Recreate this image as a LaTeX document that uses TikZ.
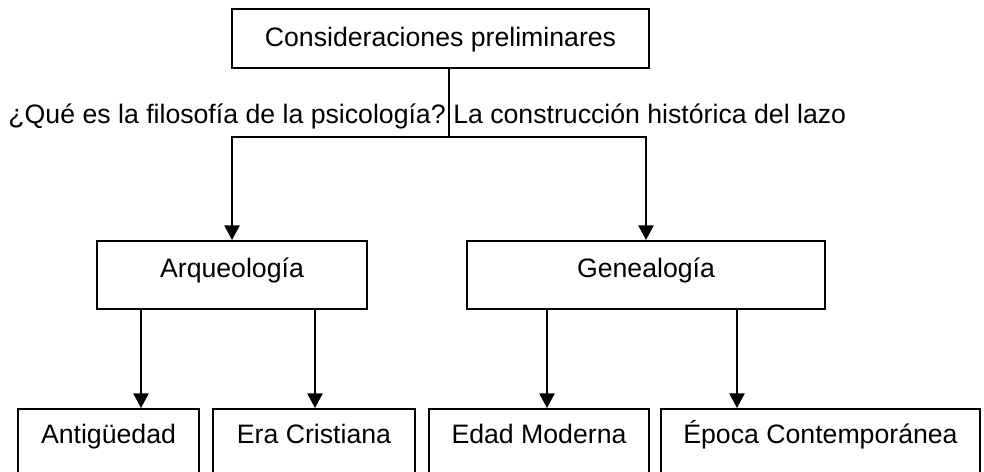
\documentclass[tikz,border=0pt]{standalone}
\usepackage{fontspec}
\setmainfont{Liberation Sans}
\usetikzlibrary{arrows.meta}
\begin{document}
\begin{tikzpicture}[x=0.75pt,y=-0.75pt,
  txt/.style={font=\fontsize{20}{24}\selectfont},
  box/.style={txt, draw, line width=1.3pt, inner sep=0pt, anchor=north},
  topbox/.style={box, minimum height=44.25pt, text height=28.1pt, text depth=16.15pt},
  midbox/.style={box, minimum height=51pt, text height=27.75pt, text depth=23.25pt},
  lowbox/.style={box, minimum height=60pt, text height=26.25pt, text depth=33.75pt},
  conn/.style={line width=1.1pt},
  arr/.style={conn, -{Triangle[length=11pt,width=11.5pt]}},
  lbl/.style={txt, inner sep=0pt}]
\clip (0,0) rectangle (984,471);
\node[topbox, minimum width=312.75pt] (top) at (440.5,8) {Consideraciones preliminares};
\node[midbox, minimum width=202.5pt] (arq) at (232,240) {Arqueología};
\node[midbox, minimum width=268.5pt] (gen) at (646,240) {Genealogía};
\node[lowbox, minimum width=135.75pt] (ant) at (108.5,408) {Antigüedad};
\node[lowbox, minimum width=151.5pt] (era) at (314,408) {Era Cristiana};
\node[lowbox, minimum width=165pt] (edad) at (539,408) {Edad Moderna};
\node[lowbox, minimum width=239.25pt] (epo) at (820.5,408) {Época Contemporánea};
\node[lbl, anchor=base east] (l1) at (446,123) {¿Qué es la filosofía de la psicología?};
\node[lbl, anchor=base west] (l2) at (453,123) {La construcción histórica del lazo};
\coordinate (j) at (449,137);
\coordinate (x1) at (141,0);
\coordinate (x2) at (315,0);
\coordinate (x3) at (547,0);
\coordinate (x4) at (737,0);
\draw[conn] (top.south -| j) -- (j);
\draw[arr] (j) -| (arq.north);
\draw[arr] (j) -| (gen.north);
\draw[arr] (arq.south -| x1) -- (ant.north -| x1);
\draw[arr] (arq.south -| x2) -- (era.north -| x2);
\draw[arr] (gen.south -| x3) -- (edad.north -| x3);
\draw[arr] (gen.south -| x4) -- (epo.north -| x4);
\end{tikzpicture}
\end{document}
